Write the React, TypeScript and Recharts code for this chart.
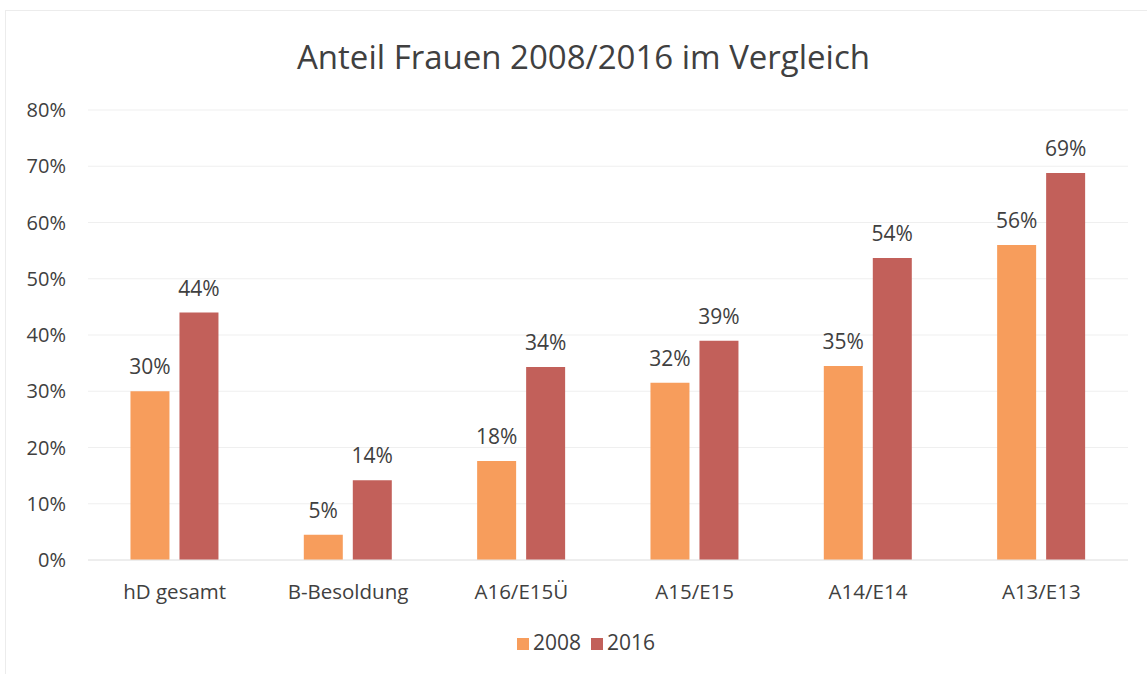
import React from 'react';
import { BarChart, Bar, XAxis, YAxis, CartesianGrid, Legend, LabelList } from 'recharts';

const categories = ['hD gesamt', 'B-Besoldung', 'A16/E15Ü', 'A15/E15', 'A14/E14', 'A13/E13'];
const values2008 = [30, 4.5, 17.6, 31.5, 34.5, 56];
const values2016 = [44, 14.2, 34.3, 39, 53.7, 68.8];
const yTicks = [0, 10, 20, 30, 40, 50, 60, 70, 80];

const data = categories.map((c, i) => ({ name: c, y2008: values2008[i], y2016: values2016[i] }));

const FONT = '"Open Sans", sans-serif';
const TEXT = '#404040';

export default function App() {
  return (
    <div style={{ position: 'absolute', left: 0, top: 0, width: 1147, height: 674, background: '#fff', fontFamily: FONT }}>
      <div style={{ position: 'absolute', left: 5, top: 10, right: 0, bottom: 0, borderLeft: '1px solid #ececec', borderTop: '1px solid #ececec' }} />
      <div style={{ position: 'absolute', left: 0, width: 1167, top: 34, textAlign: 'center', fontSize: 33, color: TEXT, lineHeight: '46px' }}>
        Anteil Frauen 2008/2016 im Vergleich
      </div>
      <BarChart
        width={1147}
        height={674}
        data={data}
        margin={{ top: 110, right: 19, bottom: 0, left: 0 }}
        barCategoryGap="24.5%"
        barGap={10}
      >
        <CartesianGrid vertical={false} stroke="#efefef" />
        <XAxis
          dataKey="name"
          axisLine={{ stroke: '#e4e4e4' }}
          tickLine={false}
          height={68}
          tickSize={6}
          tickMargin={18}
          tick={{ fill: TEXT, fontSize: 20.5, fontFamily: FONT }}
          interval={0}
        />
        <YAxis
          domain={[0, 80]}
          ticks={yTicks}
          width={88}
          axisLine={false}
          tickLine={false}
          tickSize={6}
          tickMargin={16}
          tickFormatter={(v: number) => `${v}%`}
          tick={{ fill: TEXT, fontSize: 20, fontFamily: FONT }}
        />
        <Legend
          verticalAlign="bottom"
          height={46}
          iconType="square"
          iconSize={12}
          wrapperStyle={{ fontSize: 21, fontFamily: FONT, paddingLeft: 54, boxSizing: 'border-box' }}
          formatter={(value: string) => <span style={{ color: TEXT }}>{value}</span>}
        />
        <Bar dataKey="y2008" name="2008" fill="#F79D5C" isAnimationActive={false}>
          <LabelList dataKey="y2008" position="top" offset={17} formatter={(v: number) => `${Math.round(v)}%`} style={{ fill: TEXT, fontSize: 21, fontFamily: FONT }} />
        </Bar>
        <Bar dataKey="y2016" name="2016" fill="#C2605A" isAnimationActive={false}>
          <LabelList dataKey="y2016" position="top" offset={17} formatter={(v: number) => `${Math.round(v)}%`} style={{ fill: TEXT, fontSize: 21, fontFamily: FONT }} />
        </Bar>
      </BarChart>
    </div>
  );
}
